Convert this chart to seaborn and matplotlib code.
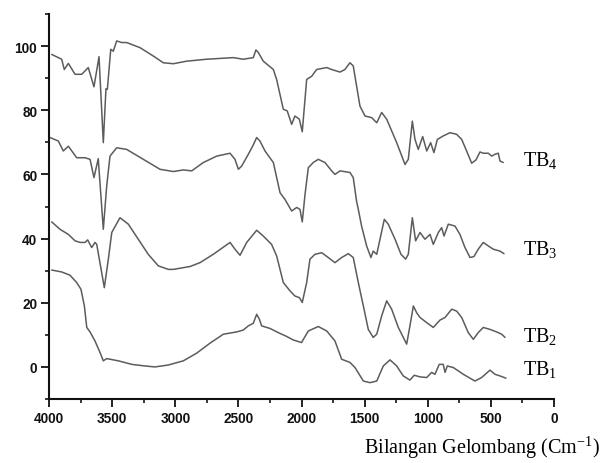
import pandas as pd
import seaborn as sns
import matplotlib
matplotlib.use('Agg')
import matplotlib.pyplot as plt
from matplotlib.ticker import MultipleLocator

# wavenumber (cm-1) and transmittance
tb4_x = [3979, 3900, 3879, 3847, 3794, 3741, 3689, 3644, 3604, 3570, 3549, 3538, 3511, 3491, 3464, 3424,
         3385, 3279, 3174, 3095, 3015, 2909, 2751, 2540, 2461, 2382, 2361, 2342, 2303, 2223, 2197, 2144,
         2113, 2078, 2052, 2017, 1994, 1959, 1919, 1880, 1800, 1761, 1695, 1656, 1616, 1590, 1537, 1497,
         1444, 1404, 1365, 1325, 1246, 1180, 1154, 1122, 1101, 1075, 1040, 1008, 977, 951, 924, 877, 824,
         771, 731, 692, 652, 618, 586, 560, 520, 493, 467, 441, 428, 402]
tb4_y = [97.4, 95.9, 92.7, 94.6, 91.2, 91.2, 93.3, 87.3, 96.7, 69.9, 86.7, 86.5, 99.0, 98.4, 101.6, 101.1,
         101.1, 99.5, 96.9, 94.8, 94.5, 95.3, 95.9, 96.4, 95.9, 96.4, 98.8, 98.0, 95.3, 92.7, 89.6, 80.3,
         79.8, 75.6, 78.2, 77.2, 73.3, 89.6, 90.6, 92.7, 93.3, 92.7, 91.9, 92.7, 94.8, 93.8, 81.3, 78.2,
         77.7, 76.1, 79.3, 77.2, 69.9, 63.1, 64.7, 76.6, 70.9, 67.8, 71.8, 67.3, 69.9, 66.8, 70.9, 72.0, 73.0,
         72.5, 70.9, 67.3, 63.5, 64.5, 67.0, 66.6, 66.6, 65.7, 66.3, 66.6, 64.2, 63.7]

tb3_x = [3992, 3926, 3887, 3847, 3781, 3715, 3675, 3644, 3610, 3570, 3543, 3517, 3464, 3385, 3253, 3121,
         3015, 2936, 2870, 2778, 2672, 2566, 2527, 2500, 2474, 2421, 2387, 2355, 2329, 2289, 2223, 2170,
         2131, 2078, 2038, 2012, 1994, 1972, 1946, 1907, 1867, 1814, 1761, 1735, 1695, 1616, 1590, 1564,
         1550, 1524, 1484, 1450, 1432, 1404, 1344, 1313, 1259, 1212, 1175, 1154, 1122, 1096, 1061, 1022,
         982, 956, 916, 890, 871, 837, 784, 745, 705, 665, 634, 600, 560, 520, 481, 428, 396]
tb3_y = [71.5, 70.4, 67.3, 68.8, 65.2, 65.2, 64.7, 59.0, 64.9, 42.9, 56.4, 65.7, 68.3, 67.8, 64.7, 61.6,
         60.9, 61.4, 61.1, 63.7, 65.7, 66.6, 64.7, 61.6, 62.6, 66.3, 68.8, 71.5, 70.4, 67.3, 63.7, 54.3,
         52.2, 48.6, 49.7, 49.1, 45.2, 53.8, 62.1, 63.7, 64.7, 63.7, 61.1, 60.0, 61.1, 60.6, 59.0, 51.7,
         49.1, 43.9, 37.7, 34.1, 36.1, 35.1, 46.0, 44.5, 39.8, 35.1, 33.6, 35.1, 46.5, 39.3, 41.9, 39.8,
         41.3, 38.2, 41.9, 43.4, 40.8, 44.5, 43.9, 41.3, 37.2, 34.1, 34.4, 36.7, 38.8, 37.7, 36.7, 36.1, 35.3]

tb2_x = [3979, 3913, 3847, 3794, 3754, 3715, 3694, 3662, 3636, 3622, 3562, 3530, 3503, 3438, 3372, 3293,
         3214, 3134, 3055, 3015, 2883, 2804, 2699, 2566, 2527, 2487, 2434, 2355, 2303, 2237, 2197, 2144,
         2091, 2052, 2017, 1994, 1959, 1933, 1893, 1840, 1788, 1735, 1682, 1629, 1590, 1550, 1510, 1471,
         1432, 1404, 1365, 1325, 1286, 1233, 1167, 1141, 1114, 1088, 1061, 1008, 956, 903, 863, 810, 771,
         731, 679, 639, 600, 560, 507, 454, 414, 388]
tb2_y = [45.2, 42.9, 41.3, 39.3, 38.8, 38.8, 39.6, 37.2, 38.8, 38.2, 24.7, 33.6, 41.9, 46.5, 44.5, 39.8,
         35.1, 31.5, 30.4, 30.4, 31.3, 32.5, 35.1, 38.8, 36.7, 34.8, 38.8, 42.6, 40.8, 38.2, 34.6, 26.3,
         23.7, 22.1, 21.6, 20.1, 26.3, 33.6, 35.1, 35.6, 34.1, 32.5, 34.1, 35.3, 34.1, 26.3, 19.0, 11.7,
         9.2, 10.2, 15.9, 20.6, 18.0, 12.3, 7.1, 12.8, 19.0, 16.9, 15.4, 13.8, 12.3, 14.6, 15.4, 18.0, 17.4,
         15.4, 10.7, 8.6, 10.7, 12.3, 11.7, 10.9, 10.2, 9.2]

tb1_x = [3979, 3900, 3834, 3781, 3747, 3720, 3701, 3675, 3636, 3596, 3570, 3543, 3451, 3345, 3240, 3161,
         3055, 2936, 2830, 2725, 2619, 2514, 2461, 2421, 2382, 2355, 2334, 2316, 2250, 2184, 2118, 2065,
         2000, 1946, 1867, 1800, 1735, 1682, 1616, 1576, 1510, 1458, 1404, 1352, 1299, 1246, 1194, 1141,
         1107, 1061, 1008, 969, 943, 909, 877, 863, 845, 797, 718, 626, 573, 507, 467, 428, 381]
tb1_y = [30.2, 29.6, 28.6, 26.3, 24.2, 19.0, 12.3, 10.9, 8.1, 4.5, 1.9, 2.6, 1.9, 0.8, 0.3, 0.0,
         0.6, 1.9, 4.3, 7.4, 10.2, 10.9, 11.5, 12.8, 13.6, 16.4, 14.9, 12.8, 12.0, 10.7, 9.5, 8.4,
         7.6, 11.2, 12.6, 11.2, 8.1, 2.4, 1.4, -0.2, -4.4, -4.9, -4.4, 0.3, 2.2, 0.3, -2.8, -4.1,
         -2.6, -3.1, -3.3, -1.7, -2.3, 0.8, 0.8, -1.7, 0.3, -0.2, -2.3, -4.4, -3.3, -1.0, -2.3, -2.8, -3.5]

names = ['TB4', 'TB3', 'TB2', 'TB1']
label_y = [62.6, 35.1, 7.8, -2.5]

frames = []
for name, xs, ys in zip(names, [tb4_x, tb3_x, tb2_x, tb1_x], [tb4_y, tb3_y, tb2_y, tb1_y]):
    frames.append(pd.DataFrame({'wn': xs, 't': ys, 'sample': name}))
df = pd.concat(frames, ignore_index=True)

sns.set_style('ticks')
plt.rcParams['font.family'] = ['Liberation Sans', 'DejaVu Sans']

fig = plt.figure(figsize=(6.03, 4.64), dpi=100)
ax = fig.add_axes([0.0813, 0.1379, 0.8374, 0.8298])

sns.lineplot(data=df, x='wn', y='t', hue='sample', palette={n: '#5c5c5c' for n in names},
             estimator=None, sort=False, legend=False, linewidth=1.1, ax=ax)

ax.set_xlim(4000, 0)
ax.set_ylim(-10, 110)
ax.xaxis.set_major_locator(MultipleLocator(500))
ax.xaxis.set_minor_locator(MultipleLocator(250))
ax.set_yticks([0, 20, 40, 60, 80, 100])
ax.yaxis.set_minor_locator(MultipleLocator(10))
ax.tick_params(which='major', length=5.5, width=1.3, labelsize=9.8, pad=3, colors='#111')
ax.tick_params(which='minor', length=3, width=1.3)
for lab in ax.get_xticklabels() + ax.get_yticklabels():
    lab.set_fontweight('bold')

for s in ['top', 'right']:
    ax.spines[s].set_visible(False)
for s in ['left', 'bottom']:
    ax.spines[s].set_linewidth(1.5)
    ax.spines[s].set_color('#111')

ax.set_xlabel('')
ax.set_ylabel('')

serif = ['Liberation Serif', 'DejaVu Serif']
for name, yy in zip(names, label_y):
    ax.text(245, yy, r'TB$_{\mathregular{%s}}$' % name[-1], fontsize=14.5, va='baseline', ha='left',
            clip_on=False, family=serif, color='black')

fig.text(0.995, 0.007, r'Bilangan Gelombang (Cm$^{\mathregular{-1}}$)', ha='right', va='bottom',
         fontsize=14.5, family=serif, color='black')

plt.savefig('out.png', dpi=100)
